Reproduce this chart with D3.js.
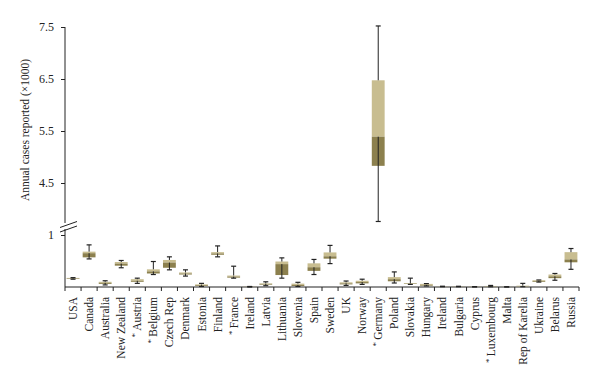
<!DOCTYPE html>
<html>
<head>
<meta charset="utf-8">
<script src="https://cdn.jsdelivr.net/npm/d3@7"></script>
<style>
  body { margin: 0; background: #fff; }
  text { font-family: "Liberation Serif", "DejaVu Serif", serif; fill: #222; }
</style>
</head>
<body>
<div id="chart"></div>
<script>
// countries (an asterisk marks the starred ones)
const countries = ["USA", "Canada", "Australia", "New Zealand", "Austria", "Belgium", "Czech Rep", "Denmark",
    "Estonia", "Finland", "France", "Ireland", "Latvia", "Lithuania", "Slovenia", "Spain", "Sweden", "UK",
    "Norway", "Germany", "Poland", "Slovakia", "Hungary", "Ireland ", "Bulgaria", "Cyprus", "Luxembourg",
    "Malta", "Rep of Karelia", "Ukraine", "Belarus", "Russia"]
const starred = ["Austria", "Belgium", "France", "Germany", "Luxembourg"]

// annual cases (x1000)
const mins    = [.15, .54, .04, .37, .07, .24, .33, .21, .01, .58, .17, 0, .025, .17, .01, .24, .45, .03, .05, 3.76, .077, .05, .02, .005, .005, 0, .005, 0, .005, .095, .13, .34]
const q1s     = [.155, .57, .06, .41, .10, .26, .37, .24, .02, .62, .18, .003, .045, .23, .02, .31, .545, .05, .07, 4.83, .11, .058, .025, .008, .007, .002, .01, .001, .01, .10, .17, .475]
const medians = [.165, .65, .08, .45, .12, .30, .47, .26, .035, .645, .20, .005, .06, .44, .04, .38, .59, .07, .095, 5.39, .15, .065, .04, .01, .01, .004, .015, .002, .015, .115, .205, .53]
const q3s     = [.175, .68, .10, .48, .15, .34, .52, .28, .05, .67, .22, .008, .07, .49, .065, .455, .665, .09, .12, 6.475, .19, .077, .06, .012, .012, .006, .02, .003, .025, .13, .24, .67]
const maxs    = [.18, .81, .12, .51, .17, .49, .58, .33, .07, .79, .40, .01, .10, .56, .09, .53, .80, .115, .15, 7.52, .29, .17, .065, .015, .014, .008, .03, .004, .07, .135, .26, .74]

const yTicks = [1, 4.5, 5.5, 6.5, 7.5]

const width = 600, height = 387
const margin = ({ top: 27, right: 21, bottom: 100, left: 65 })

const svg = d3.select("#chart").append("svg")
    .attr("width", width)
    .attr("height", height)

const x = d3.scaleBand()
    .domain(countries)
    .range([margin.left, width - margin.right])
    .paddingInner(0).paddingOuter(0)

// broken axis: 1 .. 3.5 is squeezed out
const y = d3.scaleLinear()
    .domain([0, 1, 3.5, 7.5])
    .range([height - margin.bottom, 235, 235, margin.top])

const light = "#c8bd90", dark = "#8c804e", ink = "#222"

// y axis
const yAxis = g => g
    .attr("transform", `translate(${margin.left},0)`)
    .call(d3.axisLeft(y).tickValues(yTicks).tickSize(4).tickPadding(7).tickFormat(d => d))
    .call(g => g.select(".domain").remove())
    .call(g => g.selectAll(".tick line").attr("stroke", ink))
    .call(g => g.selectAll(".tick text").attr("font-size", "12px")
        .attr("font-family", "Liberation Serif, serif").attr("fill", ink))
svg.append("g").call(yAxis)

// axis line in two pieces with the break marks
svg.append("line").attr("x1", margin.left).attr("x2", margin.left)
    .attr("y1", y(0)).attr("y2", y(1) - 6).attr("stroke", ink)
svg.append("line").attr("x1", margin.left).attr("x2", margin.left)
    .attr("y1", y(7.5)).attr("y2", y(1) - 12).attr("stroke", ink)
;[0, 4.5].forEach(o => {
    svg.append("line")
        .attr("x1", margin.left - 5).attr("y1", y(1) - 5 - o + 2)
        .attr("x2", margin.left + 12).attr("y2", y(1) - 11 - o + 2)
        .attr("stroke", ink).attr("stroke-width", 1)
})

svg.append("text")
    .attr("transform", "translate(29,130) rotate(-90)")
    .attr("text-anchor", "middle")
    .attr("font-size", "11.5px")
    .text("Annual cases reported (×1000)")

// x axis
svg.append("line")
    .attr("x1", margin.left).attr("x2", width - margin.right)
    .attr("y1", y(0)).attr("y2", y(0)).attr("stroke", ink)
svg.append("g").selectAll("line")
    .data(d3.range(countries.length + 1))
    .join("line")
    .attr("x1", i => margin.left + i * x.step())
    .attr("x2", i => margin.left + i * x.step())
    .attr("y1", y(0)).attr("y2", y(0) + 4)
    .attr("stroke", ink)

const labels = svg.append("g").selectAll("text")
    .data(countries)
    .join("text")
    .attr("transform", d => `translate(${x(d) + x.bandwidth() / 2 + 4},${y(0) + 10}) rotate(-90)`)
    .attr("text-anchor", "end")
    .attr("font-size", "11.5px")
labels.filter(d => starred.includes(d)).append("tspan")
    .attr("font-size", "9px").attr("dy", -3).text("* ")
labels.append("tspan")
    .attr("dy", d => starred.includes(d) ? 3 : 0)
    .text(d => d.trim())

// boxes
const data = countries.map((c, i) => ({ c, min: mins[i], q1: q1s[i], med: medians[i], q3: q3s[i], max: maxs[i] }))
const bw = x.bandwidth() * 0.8
const cx = d => x(d.c) + x.bandwidth() / 2

const box = svg.append("g").selectAll("g")
    .data(data)
    .join("g")

box.append("rect")
    .attr("x", d => cx(d) - bw / 2).attr("width", bw)
    .attr("y", d => y(d.q3)).attr("height", d => y(d.med) - y(d.q3))
    .attr("fill", light)
box.append("rect")
    .attr("x", d => cx(d) - bw / 2).attr("width", bw)
    .attr("y", d => y(d.med)).attr("height", d => y(d.q1) - y(d.med))
    .attr("fill", dark)
box.append("line")
    .attr("x1", cx).attr("x2", cx)
    .attr("y1", d => y(d.max)).attr("y2", d => y(d.q3))
    .attr("stroke", ink)
box.append("line")
    .attr("x1", cx).attr("x2", cx)
    .attr("y1", d => y(d.med)).attr("y2", d => y(d.min))
    .attr("stroke", ink)
;["min", "max"].forEach(k => {
    box.append("line")
        .attr("x1", d => cx(d) - 2.5).attr("x2", d => cx(d) + 2.5)
        .attr("y1", d => y(d[k])).attr("y2", d => y(d[k]))
        .attr("stroke", ink).attr("stroke-width", 1.2)
})
</script>
</body>
</html>
